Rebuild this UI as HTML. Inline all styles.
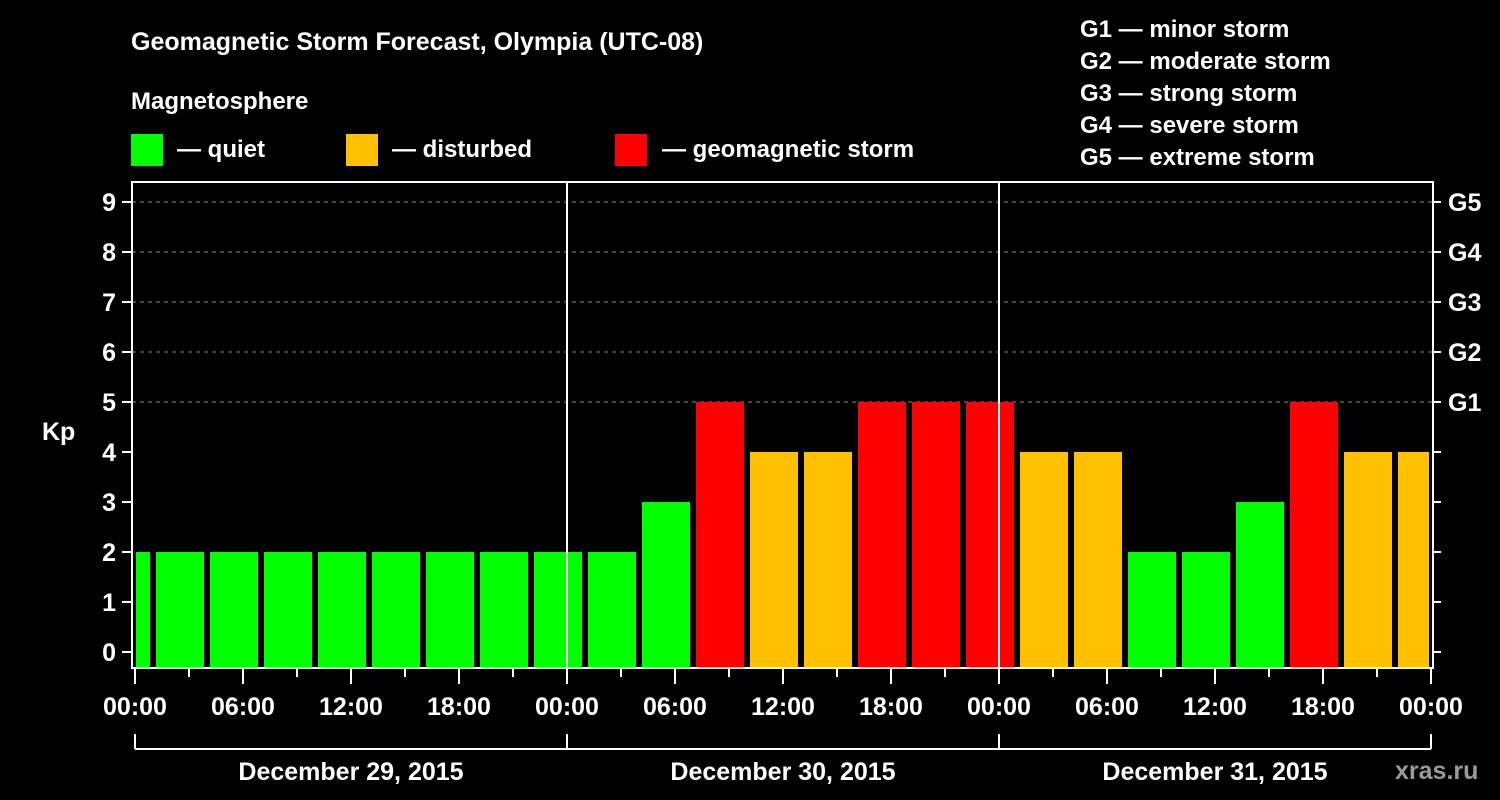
<!DOCTYPE html>
<html><head><meta charset="utf-8"><style>
html,body{margin:0;padding:0;background:#000;width:1500px;height:800px;overflow:hidden}
svg text{font-family:"Liberation Sans",Arial,sans-serif;font-weight:bold;fill:#fff}
</style></head><body>
<svg width="1500" height="800" id="chart">
<text x="131" y="50" font-size="25">Geomagnetic Storm Forecast, Olympia (UTC-08)</text>
<text x="131" y="109" font-size="24">Magnetosphere</text>
<g><rect x="131" y="134" width="32" height="32" fill="#00ff00"/><text x="177" y="157" font-size="24">— quiet</text></g>
<g><rect x="346" y="134" width="32" height="32" fill="#ffc000"/><text x="392" y="157" font-size="24">— disturbed</text></g>
<g><rect x="615" y="134" width="32" height="32" fill="#ff0000"/><text x="662" y="157" font-size="24">— geomagnetic storm</text></g>
<g font-size="24">
<text x="1080" y="37">G1 — minor storm</text>
<text x="1080" y="69">G2 — moderate storm</text>
<text x="1080" y="101">G3 — strong storm</text>
<text x="1080" y="133">G4 — severe storm</text>
<text x="1080" y="165">G5 — extreme storm</text>
</g>
<text x="42" y="440" font-size="25">Kp</text>
<g id="grid"></g><g id="bars"></g><g id="axes"></g>
<text x="1395" y="779" font-size="25" fill="#aaa" style="fill:#9a9a9a">xras.ru</text>
</svg>
<script>
const kpValues=[2,2,2,2,2,2,2,2,2,2,3,5,4,4,5,5,5,4,4,2,2,3,5,4,4];
const yTicks=[0,1,2,3,4,5,6,7,8,9];
const gLabels=["G1","G2","G3","G4","G5"];
const timeLabels=["00:00","06:00","12:00","18:00","00:00","06:00","12:00","18:00","00:00","06:00","12:00","18:00","00:00"];
const dayLabels=["December 29, 2015","December 30, 2015","December 31, 2015"];
const firstBlockHour=-2;
const NS="http://www.w3.org/2000/svg";
const L=132,R=1433,T=182,B=668,X0=135,PXH=18;
const xs=h=>X0+h*PXH, ys=v=>652-50*v;
function mk(tag,attrs,parent){const e=document.createElementNS(NS,tag);for(const k in attrs)e.setAttribute(k,attrs[k]);parent.appendChild(e);return e;}
const grid=document.getElementById('grid'),bars=document.getElementById('bars'),axes=document.getElementById('axes');
yTicks.forEach(v=>{if(v>=5){const l=mk('line',{x1:L,x2:R,y1:ys(v),y2:ys(v),stroke:'#888','stroke-dasharray':'4,4','stroke-width':1},grid);

}});
kpValues.forEach((v,i)=>{const h0=firstBlockHour+3*i;let x1=xs(h0)+3,x2=xs(h0+3)-3;x1=Math.max(x1,L+4);x2=Math.min(x2,R-4);
const c=v>=5?'#ff0000':v>=4?'#ffc000':'#00ff00';
const r=mk('rect',{x:x1,y:ys(v),width:x2-x1,height:B-ys(v),fill:c},bars);

});
const frame=mk('rect',{x:L,y:T,width:R-L,height:B-T,fill:'none',stroke:'#fff','stroke-width':2},axes);


[24,48].forEach(h=>{const l=mk('line',{x1:xs(h),x2:xs(h),y1:T,y2:B,stroke:'#fff','stroke-width':2},axes);

});
yTicks.forEach(v=>{mk('line',{x1:L-10,x2:L,y1:ys(v),y2:ys(v),stroke:'#fff','stroke-width':2},axes);
mk('line',{x1:R,x2:R+8,y1:ys(v),y2:ys(v),stroke:'#fff','stroke-width':2},axes);
const t=mk('text',{x:L-16,y:ys(v)+9,'font-size':25,'text-anchor':'end'},axes);t.textContent=v;

});
gLabels.forEach((g,i)=>{const t=mk('text',{x:1448,y:ys(5+i)+9,'font-size':25},axes);t.textContent=g;

});
for(let h=0;h<=72;h+=3){const big=h%6===0;mk('line',{x1:xs(h),x2:xs(h),y1:B,y2:B+(big?16:9),stroke:'#fff','stroke-width':2},axes);}
timeLabels.forEach((s,i)=>{const t=mk('text',{x:xs(6*i),y:715,'font-size':25,'text-anchor':'middle'},axes);t.textContent=s;

});
mk('line',{x1:xs(0),x2:xs(72),y1:749,y2:749,stroke:'#fff','stroke-width':2},axes);
[0,24,48,72].forEach(h=>mk('line',{x1:xs(h),x2:xs(h),y1:734,y2:749,stroke:'#fff','stroke-width':2},axes));
dayLabels.forEach((s,i)=>{const t=mk('text',{x:xs(24*i+12),y:780,'font-size':25,'text-anchor':'middle'},axes);t.textContent=s;

});
</script>
</body></html>
